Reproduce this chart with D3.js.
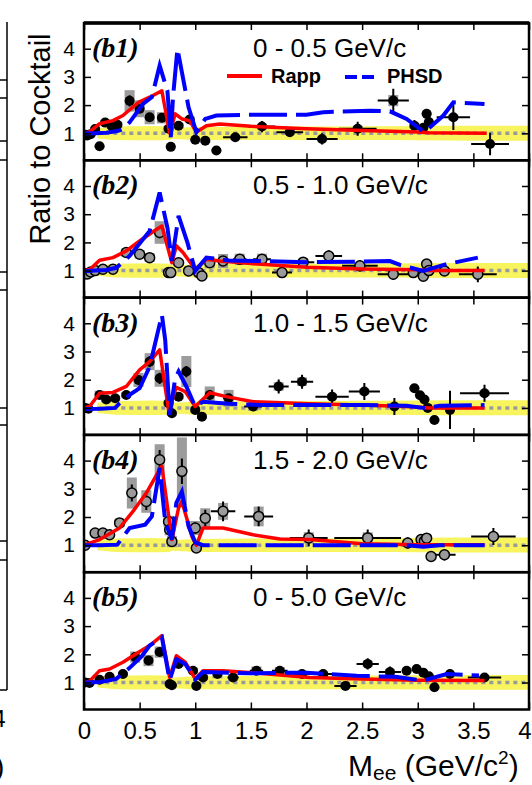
<!DOCTYPE html>
<html>
<head>
<meta charset="utf-8">
<script src="https://cdn.jsdelivr.net/npm/d3@7"></script>
<style>
  body { margin: 0; background: #fff; }
  svg { display: block; }
</style>
</head>
<body>
<svg id="chart" width="532" height="785"></svg>
<script>
// ---- axis ticks and labels ----
const massTicks = [0, 0.5, 1, 1.5, 2, 2.5, 3, 3.5, 4];
const massTickLabels = ["0", "0.5", "1", "1.5", "2", "2.5", "3", "3.5", "4"];
const ratioTicks = [1, 2, 3, 4];
const ratioTickLabels = ["1", "2", "3", "4"];
const panelTags = ["(b1)", "(b2)", "(b3)", "(b4)", "(b5)"];
const ptBins = ["0 - 0.5 GeV/c", "0.5 - 1.0 GeV/c", "1.0 - 1.5 GeV/c", "1.5 - 2.0 GeV/c", "0 - 5.0 GeV/c"];
const legendNames = ["Rapp", "PHSD"];

// ---- cocktail uncertainty band around unity ----
const bandMass = [0.12, 0.3, 0.6, 0.76, 0.8, 1.0, 1.5, 2.0, 2.5, 3.0, 3.5, 4.0];
const bandLow  = [0.82, 0.76, 0.75, 0.76, 0.8, 0.76, 0.76, 0.76, 0.76, 0.75, 0.74, 0.74];
const bandHigh = [1.18, 1.24, 1.26, 1.24, 1.18, 1.22, 1.24, 1.24, 1.25, 1.26, 1.27, 1.27];

// ---- measured ratios: [mass, ratio, mass half-width, stat error, syst error] ----
const dataB1 = [
  [0.01, 0.95, 0, 0.08, 0.05], [0.03, 0.92, 0, 0.08, 0.05], [0.06, 0.97, 0, 0.08, 0.05],
  [0.10, 1.15, 0, 0.10, 0.08], [0.14, 0.54, 0, 0.10, 0.05], [0.19, 1.38, 0, 0.10, 0.10],
  [0.25, 1.25, 0, 0.10, 0.10], [0.30, 1.30, 0, 0.10, 0.10], [0.41, 2.15, 0, 0.20, 0.38],
  [0.50, 1.87, 0, 0.15, 0.30], [0.59, 1.57, 0, 0.15, 0.25], [0.70, 1.55, 0, 0.15, 0.20],
  [0.76, 1.16, 0, 0.15, 0.10], [0.78, 0.52, 0, 0.10, 0.05], [0.85, 1.27, 0, 0.15, 0.10],
  [0.95, 1.49, 0, 0.15, 0.10], [1.00, 0.77, 0, 0.10, 0.05], [1.09, 0.74, 0, 0.15, 0.08],
  [1.19, 0.39, 0, 0.15, 0.05], [1.36, 0.86, 0.11, 0.15, 0.08], [1.60, 1.24, 0.12, 0.20, 0.10],
  [1.85, 1.04, 0.12, 0.15, 0.08], [2.14, 0.80, 0.14, 0.20, 0.08], [2.46, 1.16, 0.17, 0.25, 0.10],
  [2.78, 2.16, 0.14, 0.42, 0.20], [2.97, 1.27, 0.03, 0.20, 0.10], [3.05, 1.20, 0.02, 0.10, 0.05],
  [3.08, 1.69, 0.02, 0.10, 0.05], [3.10, 1.40, 0.02, 0.10, 0.05], [3.32, 1.57, 0.15, 0.45, 0.10],
  [3.65, 0.62, 0.17, 0.40, 0.05]
];
const dataB2 = [
  [0.01, 0.90, 0, 0.06, 0.04], [0.03, 0.88, 0, 0.06, 0.04], [0.06, 0.95, 0, 0.06, 0.04],
  [0.10, 1.00, 0, 0.08, 0.05], [0.17, 1.05, 0, 0.08, 0.05], [0.26, 1.05, 0, 0.08, 0.05],
  [0.38, 1.64, 0, 0.12, 0.15], [0.50, 1.58, 0, 0.12, 0.15], [0.59, 1.46, 0, 0.12, 0.15],
  [0.68, 2.35, 0, 0.20, 0.40], [0.76, 0.93, 0, 0.10, 0.05], [0.78, 0.93, 0, 0.10, 0.05],
  [0.85, 1.28, 0, 0.12, 0.10], [0.94, 0.99, 0, 0.10, 0.05], [1.03, 0.93, 0, 0.10, 0.05],
  [1.06, 0.81, 0, 0.10, 0.05], [1.13, 1.28, 0, 0.12, 0.20], [1.25, 1.34, 0, 0.12, 0.25],
  [1.40, 1.40, 0.06, 0.12, 0.20], [1.60, 1.40, 0.08, 0.12, 0.20], [1.78, 0.93, 0.09, 0.12, 0.10],
  [1.97, 1.30, 0.10, 0.15, 0.10], [2.20, 1.52, 0.12, 0.20, 0.10], [2.48, 1.17, 0.16, 0.20, 0.10],
  [2.78, 0.87, 0.14, 0.20, 0.08], [2.96, 0.93, 0.02, 0.10, 0.05], [3.05, 0.80, 0.02, 0.10, 0.05],
  [3.08, 1.23, 0.02, 0.10, 0.05], [3.10, 1.00, 0.02, 0.10, 0.05], [3.24, 0.99, 0.04, 0.10, 0.05],
  [3.54, 0.87, 0.17, 0.28, 0.05]
];
const dataB3 = [
  [0.01, 1.00, 0, 0.06, 0.04], [0.04, 0.97, 0, 0.06, 0.04], [0.14, 1.46, 0, 0.10, 0.15],
  [0.20, 1.30, 0, 0.10, 0.10], [0.28, 1.34, 0, 0.10, 0.10], [0.38, 1.46, 0, 0.12, 0.10],
  [0.49, 1.99, 0, 0.15, 0.25], [0.59, 2.64, 0, 0.20, 0.30], [0.68, 2.05, 0, 0.20, 0.30],
  [0.76, 1.17, 0, 0.12, 0.10], [0.79, 0.81, 0, 0.12, 0.08], [0.85, 1.40, 0, 0.15, 0.10],
  [0.92, 2.29, 0, 0.20, 0.55], [1.00, 0.93, 0, 0.12, 0.10], [1.06, 0.69, 0, 0.12, 0.08],
  [1.13, 1.46, 0, 0.15, 0.30], [1.30, 1.34, 0.05, 0.15, 0.30], [1.52, 1.05, 0.08, 0.12, 0.15],
  [1.75, 1.76, 0.09, 0.25, 0.15], [1.96, 1.93, 0.10, 0.25, 0.15], [2.23, 1.40, 0.15, 0.25, 0.10],
  [2.52, 1.58, 0.14, 0.30, 0.10], [2.79, 1.05, 0.03, 0.30, 0.10], [2.97, 1.70, 0.02, 0.15, 0.05],
  [3.02, 1.45, 0.02, 0.10, 0.05], [3.06, 1.30, 0.02, 0.10, 0.05], [3.09, 1.00, 0.02, 0.10, 0.05],
  [3.15, 0.57, 0.02, 0.10, 0.05], [3.29, 0.93, 0.02, 0.68, 0.05], [3.60, 1.52, 0.22, 0.30, 0.10]
];
const dataB4 = [
  [0.01, 1.00, 0, 0.06, 0.04], [0.10, 1.43, 0, 0.10, 0.08], [0.17, 1.43, 0, 0.10, 0.08],
  [0.23, 1.37, 0, 0.10, 0.08], [0.32, 1.79, 0, 0.15, 0.15], [0.43, 2.85, 0, 0.30, 0.55],
  [0.56, 2.55, 0, 0.30, 0.40], [0.68, 4.03, 0, 0.35, 0.55], [0.76, 1.84, 0, 0.20, 0.20],
  [0.77, 1.55, 0, 0.20, 0.20], [0.79, 1.13, 0, 0.15, 0.20], [0.88, 3.62, 0, 0.45, 1.20],
  [1.00, 1.61, 0, 0.20, 0.25], [1.01, 0.90, 0, 0.12, 0.10], [1.09, 1.96, 0, 0.30, 0.35],
  [1.25, 2.20, 0.11, 0.35, 0.30], [1.57, 2.02, 0.13, 0.35, 0.35], [2.02, 1.26, 0.17, 0.30, 0.20],
  [2.55, 1.26, 0.30, 0.30, 0.20], [2.91, 1.08, 0.03, 0.20, 0.10], [3.03, 1.20, 0.02, 0.10, 0.05],
  [3.06, 1.15, 0.02, 0.10, 0.05], [3.08, 1.25, 0.02, 0.10, 0.05], [3.12, 0.60, 0.02, 0.10, 0.05],
  [3.24, 0.66, 0.10, 0.20, 0.05], [3.68, 1.31, 0.20, 0.30, 0.10]
];
const dataB5 = [
  [0.01, 1.00, 0, 0.05, 0.04], [0.05, 0.98, 0, 0.05, 0.04], [0.14, 1.10, 0, 0.06, 0.05],
  [0.23, 1.20, 0, 0.06, 0.06], [0.35, 1.30, 0, 0.08, 0.08], [0.46, 1.90, 0, 0.10, 0.20],
  [0.58, 1.78, 0, 0.10, 0.20], [0.68, 2.08, 0, 0.10, 0.20], [0.77, 0.95, 0, 0.08, 0.05],
  [0.79, 0.90, 0, 0.08, 0.05], [0.85, 1.66, 0, 0.10, 0.10], [0.98, 1.42, 0, 0.10, 0.10],
  [1.01, 0.88, 0, 0.08, 0.05], [1.07, 1.18, 0, 0.10, 0.10], [1.20, 1.30, 0.04, 0.10, 0.15],
  [1.34, 1.18, 0.05, 0.10, 0.12], [1.55, 1.42, 0.06, 0.10, 0.15], [1.76, 1.42, 0.07, 0.12, 0.12],
  [1.96, 1.30, 0.08, 0.12, 0.10], [2.15, 1.30, 0.10, 0.15, 0.10], [2.35, 0.88, 0.10, 0.15, 0.08],
  [2.55, 1.66, 0.10, 0.20, 0.10], [2.75, 1.37, 0.10, 0.20, 0.10], [2.90, 1.42, 0.02, 0.10, 0.05],
  [2.99, 1.48, 0.02, 0.10, 0.05], [3.05, 1.35, 0.02, 0.10, 0.05], [3.10, 1.22, 0.02, 0.10, 0.05],
  [3.15, 0.83, 0.02, 0.10, 0.05], [3.29, 1.30, 0.06, 0.15, 0.05], [3.60, 1.18, 0.15, 0.12, 0.05]
];

// ---- Rapp model ratio: [mass, ratio] ----
const rappB1 = [[0,1.0],[0.05,1.05],[0.14,1.34],[0.26,1.45],[0.35,1.63],[0.49,2.1],[0.59,2.28],[0.7,2.51],[0.77,1.0],[0.82,1.69],[0.88,1.51],[0.95,1.45],[1.01,1.04],[1.1,1.27],[1.22,1.33],[1.5,1.25],[2.0,1.16],[2.5,1.1],[3.0,1.05],[3.1,1.02],[3.62,1.0]];
const rappB2 = [[0,1.0],[0.05,1.03],[0.14,1.37],[0.26,1.46],[0.38,1.7],[0.5,2.05],[0.61,2.35],[0.7,2.58],[0.79,1.28],[0.83,1.88],[0.89,1.64],[1.0,1.05],[1.1,1.4],[1.22,1.34],[1.5,1.25],[2.0,1.12],[2.5,1.06],[3.0,1.03],[3.1,1.0],[3.6,1.0]];
const rappB3 = [[0,1.0],[0.05,1.05],[0.14,1.52],[0.26,1.55],[0.38,1.76],[0.5,2.35],[0.59,2.64],[0.68,3.06],[0.76,0.93],[0.83,1.73],[0.91,1.58],[1.0,1.05],[1.13,1.54],[1.28,1.4],[1.52,1.22],[2.03,1.15],[2.5,1.1],[3.0,1.03],[3.1,1.0],[3.6,1.0]];
const rappB4 = [[0,1.0],[0.14,1.2],[0.32,1.61],[0.44,2.2],[0.56,2.85],[0.67,3.62],[0.7,3.8],[0.79,1.2],[0.85,2.32],[0.88,2.55],[0.97,1.31],[1.01,1.0],[1.07,1.61],[1.25,1.61],[1.52,1.37],[1.76,1.22],[2.03,1.2],[2.5,1.05],[3.0,1.02],[3.6,1.02]];
const rappB5 = [[0,1.0],[0.05,1.05],[0.14,1.42],[0.23,1.48],[0.35,1.72],[0.49,2.07],[0.59,2.31],[0.7,2.66],[0.77,1.18],[0.83,1.95],[0.91,1.72],[1.0,1.13],[1.07,1.42],[1.25,1.42],[1.6,1.32],[2.03,1.18],[2.5,1.12],[3.0,1.08],[3.6,1.07]];

// ---- PHSD model ratio: [mass, ratio] ----
const phsdB1 = [[0,1.0],[0.1,1.0],[0.2,1.02],[0.3,1.08],[0.35,1.15],[0.41,1.39],[0.53,2.04],[0.61,2.28],[0.68,3.4],[0.75,2.5],[0.78,0.86],[0.8,2.28],[0.84,4.0],[0.94,1.92],[1.01,1.04],[1.09,1.51],[1.19,1.63],[1.5,1.66],[2.0,1.66],[2.15,1.75],[2.57,1.8],[2.75,1.78],[2.9,1.51],[3.06,1.04],[3.23,1.63],[3.32,2.1],[3.6,2.04]];
const phsdB2 = [[0,0.98],[0.1,1.0],[0.2,1.02],[0.29,1.1],[0.41,1.52],[0.59,2.4],[0.68,3.77],[0.75,2.52],[0.79,1.34],[0.85,2.94],[0.93,1.99],[1.0,0.99],[1.1,1.46],[1.3,1.36],[1.58,1.34],[2.0,1.3],[2.5,1.32],[2.75,1.34],[2.84,1.2],[3.05,0.99],[3.26,1.23],[3.54,1.46]];
const phsdB3 = [[0,0.96],[0.15,0.97],[0.28,1.0],[0.32,1.17],[0.41,1.46],[0.5,1.7],[0.59,2.46],[0.7,4.3],[0.73,3.41],[0.77,0.75],[0.82,2.05],[0.85,2.29],[0.92,1.76],[1.0,1.05],[1.07,1.22],[1.3,1.15],[1.6,1.1],[2.0,1.1],[2.5,1.1],[2.9,1.08],[3.07,0.99],[3.2,1.08],[3.6,1.1]];
const phsdB4 = [[0,1.0],[0.15,1.0],[0.3,1.02],[0.41,1.61],[0.55,1.73],[0.61,2.02],[0.68,3.74],[0.73,1.84],[0.79,1.2],[0.83,2.5],[0.88,2.9],[0.94,1.67],[1.0,1.1],[1.07,1.0],[1.5,1.0],[2.0,1.0],[2.5,1.0],[2.9,1.0],[3.05,0.95],[3.2,1.0],[3.6,1.0]];
const phsdB5 = [[0,1.0],[0.15,1.02],[0.29,1.13],[0.41,1.52],[0.52,1.93],[0.59,2.31],[0.68,2.54],[0.7,2.6],[0.77,1.08],[0.83,1.83],[0.91,1.66],[1.0,1.1],[1.07,1.37],[1.5,1.33],[2.0,1.35],[2.45,1.24],[2.8,1.2],[3.05,1.07],[3.26,1.3],[3.55,1.25]];

const panels = [
  { data: dataB1, rapp: rappB1, phsd: phsdB1, grey: false },
  { data: dataB2, rapp: rappB2, phsd: phsdB2, grey: true },
  { data: dataB3, rapp: rappB3, phsd: phsdB3, grey: false },
  { data: dataB4, rapp: rappB4, phsd: phsdB4, grey: true },
  { data: dataB5, rapp: rappB5, phsd: phsdB5, grey: false }
];

// ---- layout ----
const SANS = "'Liberation Sans', Arial, Helvetica, sans-serif";
const SERIF = "'Liberation Serif', 'Times New Roman', serif";
const left = 84, right = 529, top0 = 23, panelH = 137.3;
const svg = d3.select("#chart");
const x = d3.scaleLinear().domain([0, 4]).range([left, right]);

// neighbouring figure's frame edge at the far left
const edge = svg.append("g").attr("stroke", "#000").attr("stroke-width", 1.5);
edge.append("line").attr("x1", 7).attr("x2", 7).attr("y1", 22).attr("y2", 690);
edge.append("line").attr("x1", 0).attr("x2", 7).attr("y1", 690).attr("y2", 690);
[80, 98, 141, 160, 272, 290, 408, 425, 541, 560].forEach(yy =>
  edge.append("line").attr("x1", 0).attr("x2", 7).attr("y1", yy).attr("y2", yy));
svg.append("text").attr("x", -1).attr("y", 727).attr("text-anchor", "middle")
  .attr("font-family", SANS).attr("font-size", 24).text("4");
svg.append("text").attr("x", -5).attr("y", 776).attr("font-family", SANS).attr("font-size", 28).text(")");

panels.forEach((p, i) => {
  const t = top0 + i * panelH;
  const y = d3.scaleLinear().domain([0.043, 4.911]).range([t + panelH, t]);
  const g = svg.append("g");

  const clipId = "clip" + i;
  svg.append("clipPath").attr("id", clipId).append("rect")
    .attr("x", left).attr("y", t).attr("width", right - left).attr("height", panelH);
  const plot = g.append("g").attr("clip-path", `url(#${clipId})`);

  // cocktail band
  const band = d3.area()
    .x((d, k) => x(bandMass[k]))
    .y0((d, k) => y(bandLow[k]))
    .y1((d, k) => y(bandHigh[k]))
    .curve(d3.curveMonotoneX);
  plot.append("path").datum(bandMass).attr("d", band).attr("fill", "#f8f45e");

  // unity reference
  plot.append("line")
    .attr("x1", x(0.12)).attr("x2", x(4)).attr("y1", y(1)).attr("y2", y(1))
    .attr("stroke", "#9a9a9a").attr("stroke-width", 3.5).attr("stroke-dasharray", "4,4");

  // systematic boxes
  plot.selectAll("rect.sys").data(p.data).join("rect").attr("class", "sys")
    .attr("x", d => x(d[0]) - 5).attr("width", 10)
    .attr("y", d => y(d[1] + d[4])).attr("height", d => y(d[1] - d[4]) - y(d[1] + d[4]))
    .attr("fill", "#9c9c9c");

  // statistical error bars
  const err = plot.append("g").attr("stroke", "#000").attr("stroke-width", 2);
  err.selectAll("line.v").data(p.data).join("line").attr("class", "v")
    .attr("x1", d => x(d[0])).attr("x2", d => x(d[0]))
    .attr("y1", d => y(d[1] + d[3])).attr("y2", d => y(d[1] - d[3]));
  err.selectAll("line.h").data(p.data.filter(d => d[2] > 0)).join("line").attr("class", "h")
    .attr("x1", d => x(d[0] - d[2])).attr("x2", d => x(d[0] + d[2]))
    .attr("y1", d => y(d[1])).attr("y2", d => y(d[1]));

  // markers
  plot.selectAll("circle.pt").data(p.data).join("circle").attr("class", "pt")
    .attr("cx", d => x(d[0])).attr("cy", d => y(d[1])).attr("r", 5)
    .attr("fill", p.grey ? "#9a9a9a" : "#000")
    .attr("stroke", "#000").attr("stroke-width", p.grey ? 1.5 : 0);

  // model curves
  const line = d3.line().x(d => x(d[0])).y(d => y(d[1]));
  plot.append("path").datum(p.rapp).attr("d", line)
    .attr("fill", "none").attr("stroke", "#ff0000").attr("stroke-width", 3.5)
    .attr("stroke-linejoin", "round");
  plot.append("path").datum(p.phsd).attr("d", line)
    .attr("fill", "none").attr("stroke", "#0000ff").attr("stroke-width", 4)
    .attr("stroke-dasharray", "38,9");

  // axes: inward ticks on all four sides
  const ax = (gen, tx, ty) => {
    const a = g.append("g").attr("transform", `translate(${tx},${ty})`).call(gen);
    a.select(".domain").remove();
    a.selectAll(".tick line").attr("stroke", "#000").attr("stroke-width", 1.5);
    return a;
  };
  ax(d3.axisTop(x).tickValues(massTicks).tickSize(-7).tickFormat(""), 0, t);
  const bottom = ax(d3.axisBottom(x).tickValues(massTicks).tickSize(-7)
    .tickFormat(i === 4 ? (d, k) => massTickLabels[k] : "").tickPadding(12), 0, t + panelH);
  bottom.selectAll("text").attr("font-family", SANS).attr("font-size", 24).attr("fill", "#000");
  // the last mass label sits flush against the page edge
  bottom.selectAll("text").filter(d => d === 4).attr("text-anchor", "end").attr("dx", 2);
  const yl = ax(d3.axisLeft(y).tickValues(ratioTicks).tickSize(-7).tickPadding(9)
    .tickFormat((d, k) => ratioTickLabels[k]), left, 0);
  yl.selectAll("text").attr("font-family", SANS).attr("font-size", 21).attr("fill", "#000");
  ax(d3.axisRight(y).tickValues(ratioTicks).tickSize(-7).tickFormat(""), right, 0);

  // frame
  g.append("rect").attr("x", left).attr("y", t).attr("width", right - left).attr("height", panelH)
    .attr("fill", "none").attr("stroke", "#000").attr("stroke-width", 2.5);

  // panel tag and pT bin
  g.append("text").attr("x", 92).attr("y", t + 34)
    .attr("font-family", SERIF).attr("font-weight", "bold").attr("font-style", "italic")
    .attr("font-size", 28).text(panelTags[i]);
  g.append("text").attr("x", 253).attr("y", t + 34)
    .attr("font-family", SANS).attr("font-size", 26).text(ptBins[i]);
});

// top frame edge is drawn heavier
svg.append("line").attr("x1", left).attr("x2", right).attr("y1", top0).attr("y2", top0)
  .attr("stroke", "#000").attr("stroke-width", 3.5);

// legend
const lg = svg.append("g");
lg.append("line").attr("x1", 227).attr("x2", 262).attr("y1", 76).attr("y2", 76)
  .attr("stroke", "#ff0000").attr("stroke-width", 4);
lg.append("text").attr("x", 271).attr("y", 83).attr("font-family", SANS)
  .attr("font-weight", "bold").attr("font-size", 20).text(legendNames[0]);
lg.append("line").attr("x1", 345).attr("x2", 376).attr("y1", 77).attr("y2", 77)
  .attr("stroke", "#0000ff").attr("stroke-width", 4).attr("stroke-dasharray", "12,5");
lg.append("text").attr("x", 387).attr("y", 83).attr("font-family", SANS)
  .attr("font-weight", "bold").attr("font-size", 20).text(legendNames[1]);

// axis titles
svg.append("text").attr("transform", "translate(50,139) rotate(-90)").attr("text-anchor", "middle")
  .attr("font-family", SANS).attr("font-size", 29).text("Ratio to Cocktail");
const xt = svg.append("text").attr("x", 348).attr("y", 776)
  .attr("font-family", SANS).attr("font-size", 30);
xt.append("tspan").text("M");
xt.append("tspan").attr("font-size", 21).attr("dy", 4).text("ee");
xt.append("tspan").attr("dy", -4).text(" (GeV/c");
xt.append("tspan").attr("font-size", 19).attr("dy", -12).text("2");
xt.append("tspan").attr("dy", 12).text(")");
</script>
</body>
</html>
